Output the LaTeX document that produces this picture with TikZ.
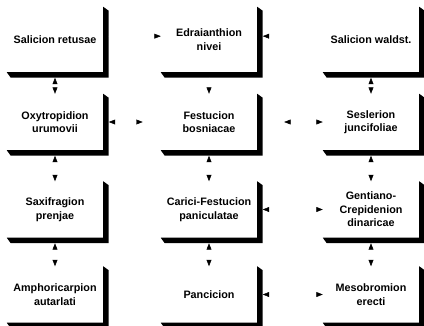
\documentclass[tikz,border=0pt]{standalone}
\usepackage{fontspec}
\setmainfont{Liberation Sans}
\usetikzlibrary{arrows.meta}
\usetikzlibrary{positioning}

\begin{document}
\begin{tikzpicture}[x=0.03cm,y=-0.03cm,
  >={Triangle[length=5.5pt,width=4.2pt,color=black]},
  alliance/.style={fill=white,align=center,inner sep=0pt,minimum width=2.88cm,minimum height=1.68cm,font=\bfseries\fontsize{9.2}{11.5}\selectfont},
  tallbox/.style={alliance,minimum height=1.95cm},
  link/.style={white,line width=0.4pt}]
\useasboundingbox (0,0) rectangle (424,325);

% row 1
\node[tallbox] (retusae) at (55,39.5) {Salicion retusae};
\node[tallbox] (edraian) at (209,39.5) {Edraianthion\\nivei};
\node[tallbox] (waldst) at (371,39.5) {Salicion waldst.};
% row 2
\node[alliance] (oxytrop) at (55,122) {Oxytropidion\\urumovii};
\node[alliance] (festuc) at (209,122) {Festucion\\bosniacae};
\node[alliance] (sesler) at (371,122) {Seslerion\\juncifoliae};
% row 3
\node[alliance] (saxifr) at (55,209.5) {Saxifragion\\prenjae};
\node[alliance] (carici) at (209,209.5) {Carici-Festucion\\paniculatae};
\node[alliance] (gentian) at (371,209.5) {Gentiano-\\Crepidenion\\dinaricae};
% row 4
\node[alliance] (amphor) at (55,294.5) {Amphoricarpion\\autarlati};
\node[alliance] (pancic) at (209,294.5) {Pancicion};
\node[alliance] (mesobr) at (371,294.5) {Mesobromion\\erecti};

% shadows
\foreach \n in {retusae,edraian,waldst,oxytrop,festuc,sesler,saxifr,carici,gentian,amphor,pancic,mesobr}{
  \fill[black] (\n.north east) -- ([shift={(5.5,4)}]\n.north east) -- ([shift={(5.5,5.5)}]\n.south east)
    -- ([shift={(4,5.5)}]\n.south west) -- (\n.south west) -- (\n.south east) -- cycle;
}

% vertical links
\draw[link,<->,shorten <=4.7pt] (retusae) -- (oxytrop);
\draw[link,<->,shorten <=4.7pt] (oxytrop) -- (saxifr);
\draw[link,<->,shorten <=4.7pt] (saxifr) -- (amphor);
\draw[link,->,shorten <=4.7pt] (edraian) -- (festuc);
\draw[link,<->,shorten <=4.7pt] (festuc) -- (carici);
\draw[link,<->,shorten <=4.7pt] (carici) -- (pancic);
\draw[link,<->,shorten <=4.7pt] (waldst) -- (sesler);
\draw[link,<->,shorten <=4.7pt] (sesler) -- (gentian);
\draw[link,<->,shorten <=4.7pt] (gentian) -- (mesobr);

% horizontal links
\draw[link,->,shorten <=4.7pt] ([yshift=0.1cm]retusae.east) -- ([yshift=0.1cm]edraian.west);
\draw[link,->,shorten >=4.7pt] ([yshift=0.1cm]waldst.west) -- ([yshift=0.1cm]edraian.east);
\draw[link,{>[reversed]}->,shorten <=15.4pt,shorten >=4.7pt] (festuc) -- (oxytrop);
\draw[link,{>[reversed]}->,shorten <=23pt] (festuc) -- (sesler);
\draw[link,<->,shorten <=4.7pt] (carici) -- (gentian);
\draw[link,<->,shorten <=4.7pt] (pancic) -- (mesobr);

\end{tikzpicture}
\end{document}
